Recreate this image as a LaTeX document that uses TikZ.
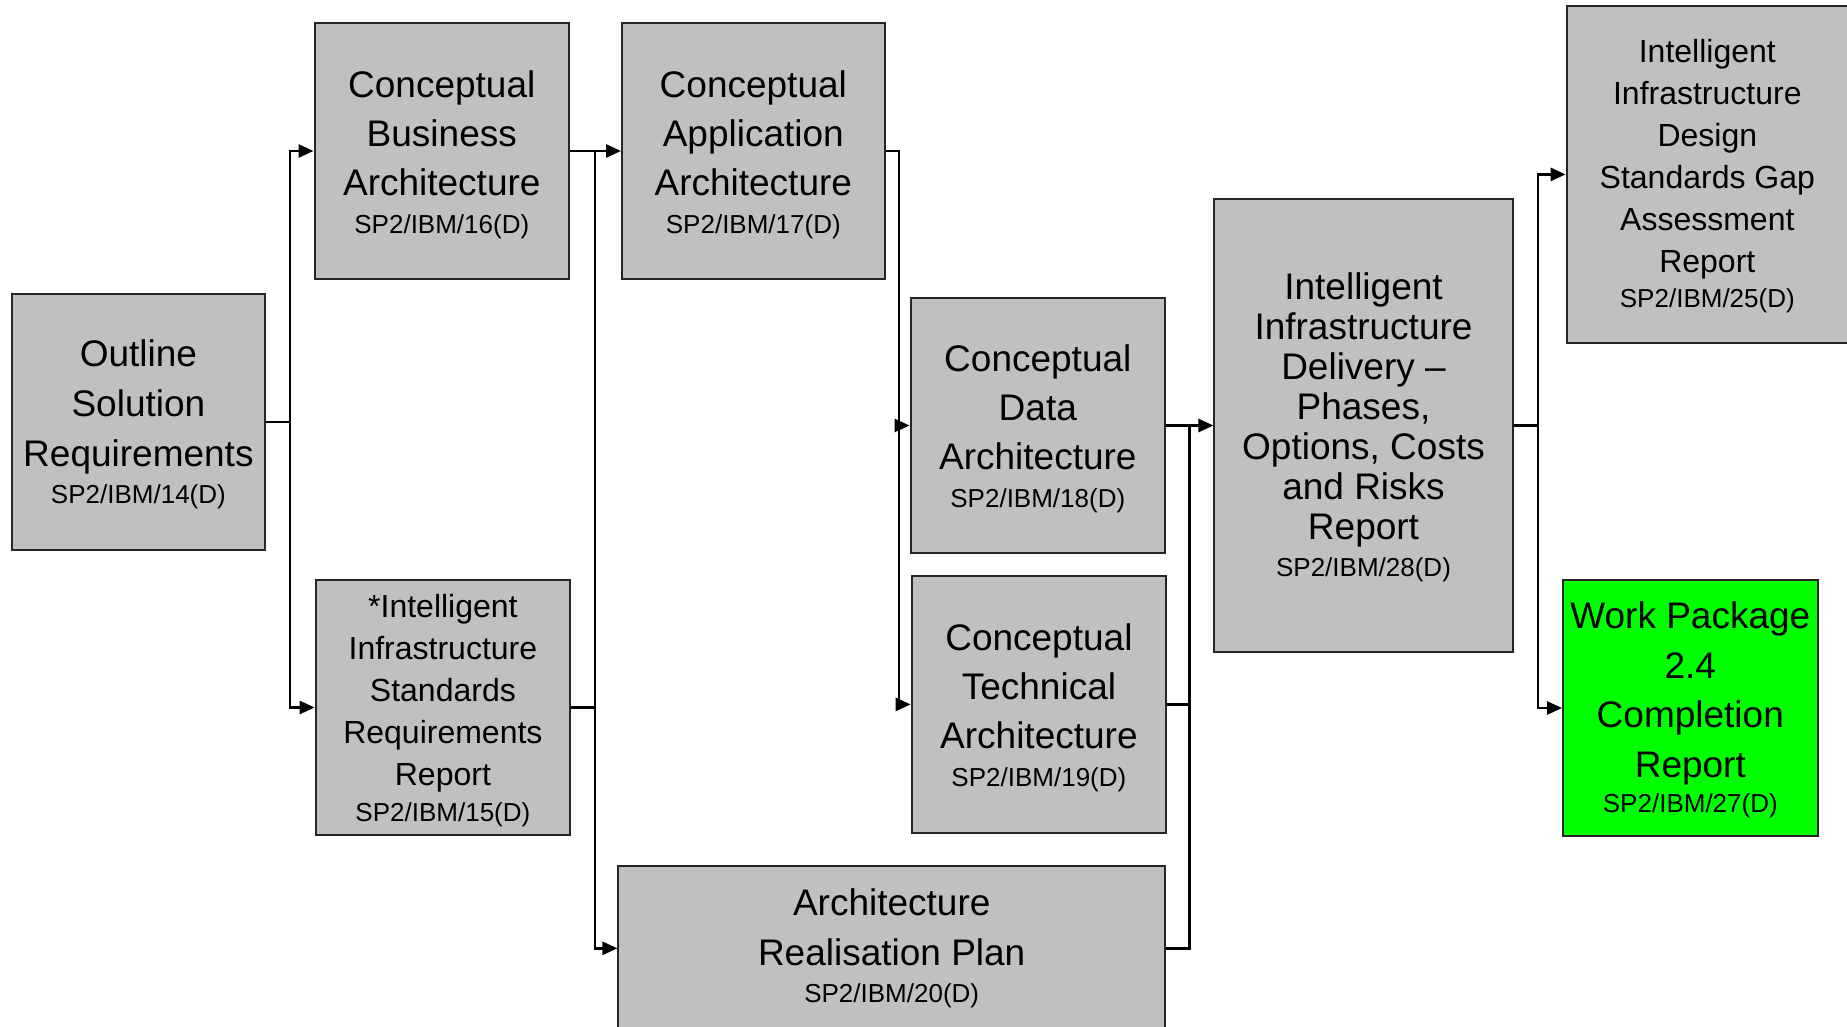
\documentclass[tikz,border=0pt]{standalone}
\usepackage{fontspec}
\setmainfont{Liberation Sans}
\usetikzlibrary{arrows.meta}
\definecolor{boxgrey}{HTML}{C0C0C0}
\definecolor{wpgreen}{HTML}{00FF00}
\newcommand\bigtxt{\fontsize{37}{49}\selectfont}
\newcommand\idtxt{\fontsize{26}{30}\selectfont}
% invisible strut that pushes the first line down a little
\newcommand\tgap[1]{\rule{0pt}{#1}}
\begin{document}
\begin{tikzpicture}[x=1pt,y=-1pt,
  box/.style={draw=black!85, line width=2pt, fill=boxgrey, inner sep=0pt,
    align=center, font=\bigtxt, minimum width=254.5pt, minimum height=255.5pt},
  link/.style={line width=2.6pt, line join=miter},
  arrow/.style={link, -{Triangle[length=15pt,width=13pt]}}]
\path[use as bounding box, fill=white] (0,0) rectangle (1847,1026);
\clip (0,0) rectangle (1847,1026);

% deliverable boxes
\node[box, font=\fontsize{37}{50}\selectfont, minimum width=253pt] (b14) at (138.4,422)
  {\tgap{31.6pt}Outline\\Solution\\Requirements\\[-13.4pt]{\idtxt SP2/IBM/14(D)}};
\node[box] (b16) at (441.8,151)
  {\tgap{33.8pt}Conceptual\\Business\\Architecture\\[-11.4pt]{\idtxt SP2/IBM/16(D)}};
\node[box, font=\fontsize{32}{42}\selectfont] (b15) at (442.9,707.5)
  {\tgap{29pt}*Intelligent\\Infrastructure\\Standards\\Requirements\\Report\\[-5.5pt]{\idtxt SP2/IBM/15(D)}};
\node[box, minimum width=262.6pt] (b17) at (753.3,151)
  {\tgap{33.8pt}Conceptual\\Application\\Architecture\\[-11.4pt]{\idtxt SP2/IBM/17(D)}};
\node[box] (b18) at (1037.8,425.5)
  {\tgap{33.8pt}Conceptual\\Data\\Architecture\\[-11.4pt]{\idtxt SP2/IBM/18(D)}};
\node[box, minimum height=256.8pt] (b19) at (1038.9,704.4)
  {\tgap{33.8pt}Conceptual\\Technical\\Architecture\\[-11.4pt]{\idtxt SP2/IBM/19(D)}};
\node[box, font=\fontsize{37}{49.5}\selectfont, minimum width=546.6pt, minimum height=165pt] (b20) at (891.7,948.3)
  {Architecture\\Realisation Plan\\[-12pt]{\idtxt SP2/IBM/20(D)}};
\node[box, font=\fontsize{37}{40}\selectfont, minimum width=298.1pt, minimum height=453.4pt] (b28) at (1363.5,425.5)
  {\tgap{30.4pt}Intelligent\\Infrastructure\\Delivery --\\Phases,\\Options, Costs\\and Risks\\Report\\[-2.4pt]{\idtxt SP2/IBM/28(D)}};
\node[box, font=\fontsize{32}{42}\selectfont, minimum width=281.4pt, minimum height=336.9pt] (b25) at (1707.3,174.4)
  {\tgap{26.6pt}Intelligent\\Infrastructure\\Design\\Standards Gap\\Assessment\\Report\\[-6.7pt]{\idtxt SP2/IBM/25(D)}};
\node[box, fill=wpgreen, font=\fontsize{37}{49.5}\selectfont, minimum height=256.8pt] (b27) at (1690.3,708)
  {\tgap{30.4pt}Work Package\\2.4\\Completion\\Report\\[-14pt]{\idtxt SP2/IBM/27(D)}};

% vertical bus lines
\coordinate (busA) at (289.8,0);
\coordinate (busB) at (595,0);
\coordinate (busC) at (898.8,0);
\coordinate (busD) at (1189.7,0);
\coordinate (busE) at (1538,0);

% connectors
\draw[arrow] (b14.east) -- (b14.east -| busA) |- (b16.west);
\draw[arrow] (b14.east -| busA) |- (b15.west);

\draw[arrow] (b16.east) -- (b17.west);
\draw[link] (b16.east -| busB) -- (b15.east -| busB);
\draw[arrow] (b15.east) -- (b15.east -| busB) |- (b20.west);

\draw[arrow] (b17.east) -- (b17.east -| busC) |- (b18.west);
\draw[arrow] (b17.east -| busC) |- (b19.west);

\draw[arrow] (b18.east) -- (b28.west);
\draw[link] (b19.east) -- (b19.east -| busD);
\draw[link] (b20.east) -- (b20.east -| busD) -- (b18.east -| busD);

\draw[arrow] (b28.east) -- (b28.east -| busE) |- (b25.west);
\draw[arrow] (b28.east -| busE) |- (b27.west);
\end{tikzpicture}
\end{document}
